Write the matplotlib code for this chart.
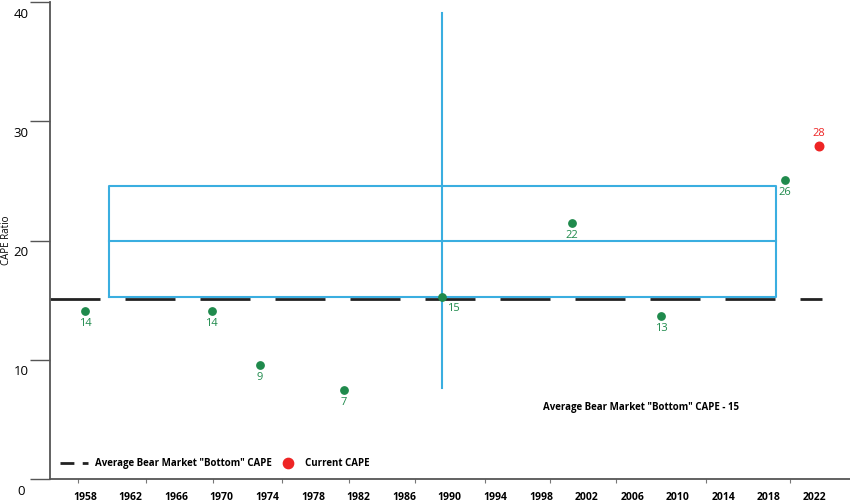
import matplotlib
matplotlib.use("Agg")
import matplotlib.pyplot as plt

plt.rcParams["font.family"] = "Open Sans"

year_labels = ["1958", "1962", "1966", "1970", "1974", "1978", "1982", "1986", "1990",
               "1994", "1998", "2002", "2006", "2010", "2014", "2018", "2022"]

# bear market bottoms: position on the label scale (1 unit = one label slot), CAPE, label
bottom_pos = [0.0, 2.78, 3.84, 5.68, 7.83, 10.68, 12.63, 15.35]
bottom_cape = [14.1, 14.1, 9.55, 7.5, 15.3, 21.5, 13.7, 25.1]
bottom_text = ["14", "14", "9", "7", "15", "22", "13", "26"]

current_pos = 16.1
current_cape = 27.9

avg_bottom = 15.1
box_lo, box_mid, box_hi = 15.25, 20.0, 24.6
whisker_lo, whisker_hi = 7.6, 39.1

green = "#1f8a4c"
blue = "#3aaee0"
red = "#ee2424"
px = 45.6  # pixel width of one label slot

fig = plt.figure(figsize=(8.5, 5.03), dpi=100)
ax = fig.add_axes([50 / 850, 24 / 503, 800 / 850, 477 / 503])
ax.set_xlim((50 - 85) / px, (850 - 85) / px)
ax.set_ylim(0, 40)

for s in ["top", "right"]:
    ax.spines[s].set_visible(False)
for s in ["left", "bottom"]:
    ax.spines[s].set_color("#555555")
    ax.spines[s].set_linewidth(1.3)

ax.set_yticks([0, 10, 20, 30, 40])
ax.set_yticklabels([])
ax.tick_params(axis="y", length=14.4, width=1.0, color="#555555")
for v in [0, 10, 20, 30, 40]:
    ax.annotate(str(v), (0, v), xycoords=("axes fraction", "data"),
                xytext=(-21, -4), textcoords="offset points",
                ha="center", va="top", fontsize=9.5)

ax.set_xticks([(p - 85) / px for p in [78, 146, 213, 282, 349, 415, 485, 550, 616, 706, 790]])
ax.set_xticklabels([])
ax.tick_params(axis="x", length=3, width=0.8, color="#777777")
for i, lab in enumerate(year_labels):
    ax.annotate(lab, (i, 0), xycoords=("data", "axes fraction"),
                xytext=(0, -9), textcoords="offset points",
                ha="center", va="top", fontsize=7.5, fontweight="bold")

ax.set_ylabel("CAPE Ratio", fontsize=7)
ax.yaxis.set_label_coords(-0.048, 0.5)

# average bottom dashed line
ax.plot([(50 - 85) / px, (822 - 85) / px], [avg_bottom, avg_bottom], color="#222222",
        lw=2, dashes=(18, 9), dash_capstyle="butt", zorder=2)

# box
x0, x1 = (109 - 85) / px, (776 - 85) / px
ax.plot([x0, x1, x1, x0, x0], [box_lo, box_lo, box_hi, box_hi, box_lo], color=blue, lw=1.5, zorder=3)
ax.plot([x0, x1], [box_mid, box_mid], color=blue, lw=1.5, zorder=3)
ax.plot([bottom_pos[4], bottom_pos[4]], [whisker_lo, whisker_hi], color=blue, lw=1.5, zorder=3)

ax.scatter(bottom_pos, bottom_cape, s=28, color=green, zorder=5)
for xp, yv, t in zip(bottom_pos, bottom_cape, bottom_text):
    dx = 8 if t == "15" else 0
    ax.annotate(t, (xp, yv), xytext=(dx, -5), textcoords="offset points",
                ha="center", va="top", fontsize=8, color=green)

ax.scatter([current_pos], [current_cape], s=38, color=red, zorder=5)
ax.annotate("28", (current_pos, current_cape), xytext=(0, 5), textcoords="offset points",
            ha="center", va="bottom", fontsize=8, color=red)

ax.text((543 - 85) / px, 6.0, 'Average Bear Market "Bottom" CAPE - 15', fontsize=7,
        fontweight="bold", va="center")

# legend
ly = 1.3
ax.plot([(60 - 85) / px, (88 - 85) / px], [ly, ly], color="#222222", lw=2, dashes=(5, 3))
ax.text((95 - 85) / px, ly, 'Average Bear Market "Bottom" CAPE', fontsize=7,
        fontweight="bold", va="center")
ax.scatter([(288 - 85) / px], [ly], s=55, color=red, clip_on=False)
ax.text((305 - 85) / px, ly, "Current CAPE", fontsize=7, fontweight="bold", va="center")

fig.savefig("out.png", dpi=100)
